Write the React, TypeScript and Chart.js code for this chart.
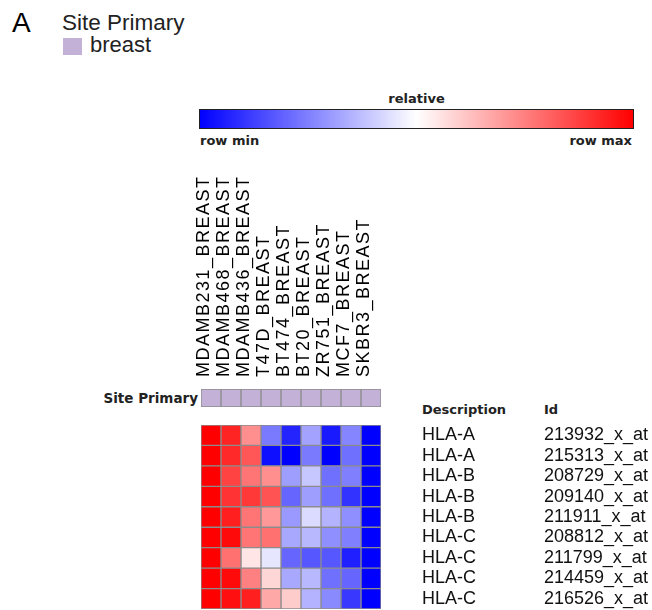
import React, { useEffect, useRef } from "react";
import { Chart, registerables } from "chart.js";

Chart.register(...registerables);

const cellLines = [
  "MDAMB231_BREAST",
  "MDAMB468_BREAST",
  "MDAMB436_BREAST",
  "T47D_BREAST",
  "BT474_BREAST",
  "BT20_BREAST",
  "ZR751_BREAST",
  "MCF7_BREAST",
  "SKBR3_BREAST",
];
const descriptions = ["HLA-A", "HLA-A", "HLA-B", "HLA-B", "HLA-B", "HLA-C", "HLA-C", "HLA-C", "HLA-C"];
const probeIds = [
  "213932_x_at",
  "215313_x_at",
  "208729_x_at",
  "209140_x_at",
  "211911_x_at",
  "208812_x_at",
  "211799_x_at",
  "214459_x_at",
  "216526_x_at",
];
// relative expression per row (0 = row min, 1 = row max), columns follow cellLines
const row213932 = [1.0, 0.93, 0.72, 0.24, 0.07, 0.32, 0.05, 0.26, 0.0];
const row215313 = [1.0, 0.92, 0.83, 0.03, 0.0, 0.24, 0.0, 0.22, 0.0];
const row208729 = [1.0, 0.87, 0.77, 0.72, 0.31, 0.39, 0.22, 0.25, 0.0];
const row209140 = [1.0, 0.9, 0.89, 0.84, 0.2, 0.31, 0.22, 0.1, 0.0];
const row211911 = [1.0, 0.94, 0.77, 0.7, 0.3, 0.43, 0.35, 0.28, 0.0];
const row208812 = [1.0, 0.98, 0.77, 0.78, 0.33, 0.36, 0.28, 0.25, 0.0];
const row211799 = [1.0, 0.78, 0.55, 0.45, 0.2, 0.17, 0.17, 0.06, 0.0];
const row214459 = [1.0, 0.98, 0.75, 0.58, 0.33, 0.36, 0.22, 0.2, 0.0];
const row216526 = [1.0, 0.97, 0.94, 0.67, 0.6, 0.35, 0.27, 0.11, 0.0];
const expressionRows = [row213932, row215313, row208729, row209140, row211911, row208812, row211799, row214459, row216526];
const sitePrimary = ["breast", "breast", "breast", "breast", "breast", "breast", "breast", "breast", "breast"];

const LAVENDER = "#c3b1d7";
const GRID = "#8c8c8c";
const ARIAL = "'Liberation Sans', Arial, sans-serif";
const DEJAVU = "'DejaVu Sans', Verdana, sans-serif";

function heatColor(v: number): string {
  if (v >= 0.5) {
    const t = (v - 0.5) / 0.5;
    const c = Math.round(255 * (1 - t));
    return `rgb(255,${c},${c})`;
  }
  const t = v / 0.5;
  const c = Math.round(255 * t);
  return `rgb(${c},${c},255)`;
}

const zeroPadding = (scale: any) => {
  scale.paddingTop = 0;
  scale.paddingBottom = 0;
  scale.paddingLeft = 0;
  scale.paddingRight = 0;
};

const labelSpacingPlugin = {
  id: "labelSpacing",
  beforeDraw(chart: any) {
    (chart.ctx as any).letterSpacing = "1.5px";
  },
  afterDraw(chart: any) {
    (chart.ctx as any).letterSpacing = "0px";
  },
};

function SiteChart() {
  const ref = useRef<HTMLCanvasElement>(null);
  useEffect(() => {
    const chart = new Chart(ref.current!, {
      type: "bar",
      data: {
        labels: ["Site Primary"],
        datasets: cellLines.map((name, i) => ({
          label: name,
          data: [1],
          backgroundColor: sitePrimary[i] === "breast" ? LAVENDER : "#ccc",
          borderColor: GRID,
          borderWidth: 1,
          borderSkipped: false,
          barPercentage: 1,
          categoryPercentage: 1,
        })),
      },
      plugins: [labelSpacingPlugin],
      options: {
        indexAxis: "y",
        responsive: false,
        animation: false,
        devicePixelRatio: 1,
        layout: { padding: { left: 111, right: 9, top: 0, bottom: 3 } },
        plugins: { legend: { display: false }, tooltip: { enabled: false } },
        scales: {
          x: {
            type: "linear",
            stacked: true,
            position: "top",
            min: 0,
            max: cellLines.length,
            grid: { display: false, drawTicks: false },
            border: { display: false },
            afterBuildTicks: (scale: any) => {
              scale.ticks = cellLines.map((_, i) => ({ value: i + 0.5 }));
            },
            afterFit: (scale: any) => {
              scale.height = 229;
              zeroPadding(scale);
            },
            ticks: {
              autoSkip: false,
              minRotation: 90,
              maxRotation: 90,
              padding: 12,
              labelOffset: 15,
              color: "#000",
              font: { family: ARIAL, size: 18 },
              callback: (_v: any, i: number) => cellLines[i],
            },
          },
          y: {
            stacked: true,
            display: false,
          },
        },
      },
    });
    return () => chart.destroy();
  }, []);
  return (
    <canvas
      ref={ref}
      width={300}
      height={250}
      style={{ position: "absolute", left: 90, top: 160, width: 300, height: 250 }}
    />
  );
}

function HeatChart() {
  const ref = useRef<HTMLCanvasElement>(null);
  useEffect(() => {
    const chart = new Chart(ref.current!, {
      type: "bar",
      data: {
        labels: descriptions,
        datasets: cellLines.map((name, c) => ({
          label: name,
          data: expressionRows.map(() => 1),
          backgroundColor: expressionRows.map((row) => heatColor(row[c])),
          borderColor: GRID,
          borderWidth: 1,
          borderSkipped: false,
          barPercentage: 1,
          categoryPercentage: 1,
        })),
      },
      options: {
        indexAxis: "y",
        responsive: false,
        animation: false,
        devicePixelRatio: 1,
        layout: { padding: { left: 5, right: 0, top: 5, bottom: 1 } },
        plugins: { legend: { display: false }, tooltip: { enabled: false } },
        scales: {
          x: {
            type: "linear",
            stacked: true,
            min: 0,
            max: cellLines.length,
            display: false,
          },
          y: {
            stacked: true,
            position: "right",
            weight: 0,
            grid: { display: false, drawTicks: false },
            border: { display: false },
            afterFit: (scale: any) => {
              scale.width = 163;
              zeroPadding(scale);
            },
            ticks: {
              autoSkip: false,
              padding: 41,
              color: "#111",
              font: { family: ARIAL, size: 18 },
            },
          },
          y2: {
            type: "category",
            labels: probeIds,
            offset: true,
            position: "right",
            weight: 1,
            grid: { display: false, drawTicks: false },
            border: { display: false },
            afterFit: (scale: any) => {
              scale.width = 108;
              zeroPadding(scale);
            },
            ticks: {
              autoSkip: false,
              padding: 0,
              color: "#111",
              font: { family: ARIAL, size: 18 },
            },
          },
        },
      },
    });
    return () => chart.destroy();
  }, []);
  return (
    <canvas
      ref={ref}
      width={456}
      height={190}
      style={{ position: "absolute", left: 196, top: 420, width: 456, height: 190 }}
    />
  );
}

export default function App() {
  const abs = (s: React.CSSProperties): React.CSSProperties => ({
    position: "absolute",
    whiteSpace: "nowrap",
    lineHeight: 1,
    margin: 0,
    ...s,
  });
  const boldSmall: React.CSSProperties = {
    fontFamily: DEJAVU,
    fontSize: 13,
    fontWeight: "bold",
    color: "#222",
  };
  return (
    <div
      style={{
        position: "fixed",
        left: 0,
        top: 0,
        width: 652,
        height: 610,
        background: "#fff",
        overflow: "hidden",
      }}
    >
      <div style={abs({ left: 12, top: 9, fontFamily: ARIAL, fontSize: 28, color: "#000" })}>A</div>
      <div style={abs({ left: 62, top: 12, fontFamily: ARIAL, fontSize: 22.5, color: "#222" })}>Site Primary</div>
      <div style={abs({ left: 63, top: 38, width: 19, height: 17, background: LAVENDER })} />
      <div style={abs({ left: 90, top: 34, fontFamily: ARIAL, fontSize: 22, color: "#222" })}>breast</div>

      <div style={abs({ left: 199, width: 435, top: 92, textAlign: "center", ...boldSmall })}>relative</div>
      <div
        style={abs({
          left: 199,
          top: 109,
          width: 433,
          height: 18,
          border: "1px solid #222",
          background: "linear-gradient(to right, #0000ff 0%, #ffffff 50%, #ff0000 100%)",
        })}
      />
      <div style={abs({ left: 200, top: 134, ...boldSmall })}>row min</div>
      <div style={abs({ left: 500, width: 132, textAlign: "right", top: 134, ...boldSmall })}>row max</div>

      <div style={abs({ left: 90, width: 108, textAlign: "right", top: 392, ...boldSmall, fontSize: 13.5 })}>
        Site Primary
      </div>

      <div style={abs({ left: 422, top: 403, ...boldSmall })}>Description</div>
      <div style={abs({ left: 544, top: 403, ...boldSmall })}>Id</div>

      <SiteChart />
      <HeatChart />
    </div>
  );
}
